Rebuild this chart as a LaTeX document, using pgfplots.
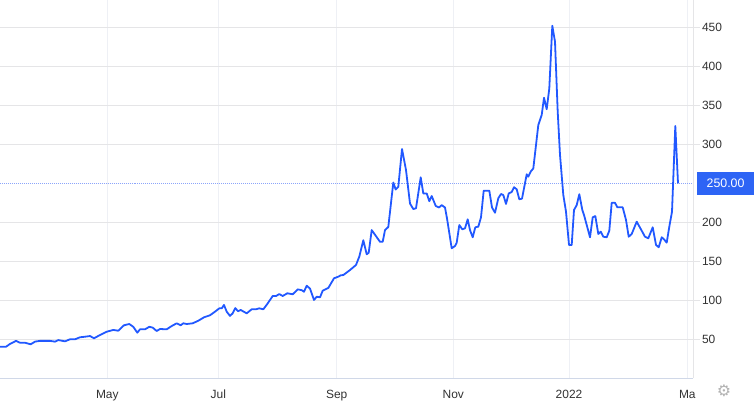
\documentclass[border=0pt]{standalone}
\usepackage{fontspec}
\setmainfont{Liberation Sans}
\newfontfamily\symfont{DejaVu Sans}
\usepackage{pgfplots}
\pgfplotsset{compat=1.18}

\definecolor{lineblue}{RGB}{33,88,255}
\definecolor{boxblue}{RGB}{45,100,245}
\definecolor{dotblue}{RGB}{140,165,250}
\definecolor{gridgrey}{RGB}{229,229,231}
\definecolor{vgrid}{RGB}{238,240,245}
\definecolor{axisblue}{RGB}{208,216,232}
\definecolor{labelgrey}{RGB}{50,50,50}

% x is the horizontal position in the chart (0 = left edge, 693 = right axis)
\pgfplotstableread{
x y
0 40.5
6 40.5
10 44
16 48
20 45.6
25 45.6
30.7 43.6
35 47
40 48
45 48
50 48
55 47
58.3 49
65 47.4
70 50
75 50
80 52.6
85 53.3
90 54.2
94 51.3
100 55.5
106.7 59.7
113.3 62
118.3 61
124 68
129.3 69.6
133.3 66
137.3 58.5
140 62.8
145 62.8
149.3 66
152.7 65
156.7 60.6
160 63.2
166.7 62.8
171.7 67
176.7 70.5
180.7 68
183.3 70.5
186.7 69.6
192.7 70.5
198.3 73.8
204 78.2
210 80.8
215 85.4
219.3 89.7
221.7 89.7
224 94
226.7 85.4
230 80
232.7 83.3
235.3 90
238 86
240.7 87.6
246.7 83.3
251.7 88.5
256 88.5
259.3 89.7
263.3 88.5
267.3 95.3
272.7 105.5
276 105.5
279.3 108
282.7 105.5
287.3 109
292.7 107.7
297.7 114
301.7 113
304 111
306.7 118.7
310 115
314 100.4
316.7 104.6
320 103.8
322.7 112.3
328.3 115.8
334 128.2
338.3 130.3
340.7 132
343.3 132.4
350 138.8
356 145.3
359.3 156
363.3 177
366.7 159
368.7 161
371.7 190
380 175
382.7 175
385 190
388.3 194
393.3 251
395.7 242
398.3 245.6
402 294
406 267
410 224
413.3 217
416 218
420.7 257.7
423.3 237
426.7 237
429.3 227
431.7 233.7
435.7 221
439 219
441.7 222
445 219
447 205
451.7 166.7
455 169.6
456.7 173.9
459.3 196.5
462.3 191
465 192.3
467.7 203.8
470 190
472.7 180.8
475.3 193.6
478.3 194.4
481 206.4
483.7 240.5
489.3 240.5
492 219
495 212.3
498.3 230.8
501 236.3
503.3 235
506 223.5
508.7 237
511.7 238.8
514 245
516.7 242.3
519.3 229.5
522 230.3
526.7 261.5
528.3 258.5
530.7 265
533.3 269
538.3 324.7
541.7 337.6
544 359.7
546.7 344.9
549.3 371.8
552.3 452
555 431.5
557.7 341.8
560 286.3
563.3 235
566 213.6
569 171
571.7 171
574 215.8
576.7 222
579.3 236
582.3 215.8
584 209.4
590 180.8
592.7 206.4
595.3 208
598.3 185
600.7 188
603.3 181.5
606.7 180.8
609.3 189.2
611.7 225
615 225
617.3 219.2
622.7 219.2
626 203
628.7 181.5
631.7 185
636.7 200.8
641.7 189.2
645 181.5
648.3 179.5
652.7 193.6
656 171
658.7 168
661.7 180.8
664 178.2
666.7 173.9
669.3 194.4
672 213.6
675.3 323.5
678 250
}\pricedata

\begin{document}
\begin{tikzpicture}
\useasboundingbox (0,-30.7bp) rectangle (754bp,378.3bp);
\begin{axis}[
  scale only axis,
  width=693bp, height=378.3bp,
  xmin=0, xmax=693, ymin=0, ymax=485,
  clip mode=individual,
  axis x line*=bottom, axis y line*=right,
  x axis line style={axisblue, line width=1pt, -},
  y axis line style={gridgrey, line width=1pt, -},
  xtick={107.3,218.3,336.7,453.3,569,687.3},
  xticklabels={May,Jul,Sep,Nov,2022,Ma},
  ytick={50,100,150,200,300,350,400,450},
  grid=major,
  x grid style={vgrid, line width=0.8pt},
  y grid style={gridgrey, line width=1pt},
  tick align=outside,
  major tick length=7bp,
  x tick style={draw=none},
  y tick style={gridgrey, line width=1pt},
  ticklabel style={font=\fontsize{12}{14}\selectfont, text=labelgrey},
  xticklabel style={yshift=-1bp},
  yticklabel style={anchor=west, xshift=-1.5bp},
  /pgf/number format/assume math mode=true,
]
\addplot[dotblue, line width=1pt, dash pattern=on 1pt off 1pt]
  coordinates {(0,250) (693,250)};
\addplot[lineblue, line width=1.8pt, line join=round] table[x=x, y=y] {\pricedata};
\node[fill=boxblue, text=white, anchor=west, minimum width=57.3bp,
      minimum height=22.7bp, inner sep=0pt,
      font=\fontsize{12.4}{14}\selectfont] at (axis cs:696.7,250) {250.00};
\node[text=gray!60, font=\symfont\fontsize{16}{16}\selectfont]
  at (axis cs:724,-15.9) {⚙};
\end{axis}
\end{tikzpicture}
\end{document}
